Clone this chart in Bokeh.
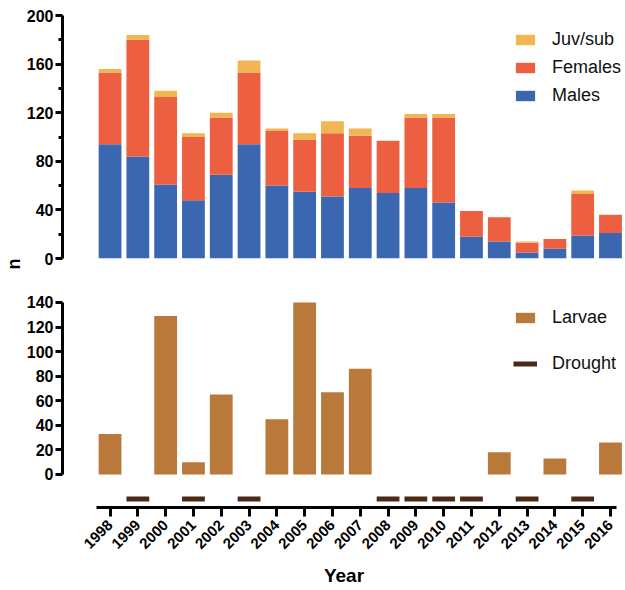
import math
from bokeh.plotting import figure
from bokeh.layouts import column
from bokeh.models import (Range1d, FixedTicker, Legend, LegendItem, Title,
                          ColumnDataSource)
from bokeh.embed import file_html
from bokeh.resources import INLINE

# ---------------- data ----------------
years = list(range(1998, 2017))
males = [94, 84, 61, 48, 69, 94, 60, 55, 51, 58, 54, 58, 46, 18, 14, 5, 8, 19, 21]
females = [59, 96, 72, 52, 47, 59, 45, 43, 52, 43, 43, 58, 70, 21, 20, 8, 8, 34, 15]
juv_sub = [3, 4, 5, 3, 4, 10, 2, 5, 10, 6, 0, 3, 3, 0, 0, 1, 0, 3, 0]
larvae = [33, 0, 129, 10, 65, 0, 45, 140, 67, 86, 0, 0, 0, 0, 18, 0, 13, 0, 26]
drought_years = [1999, 2001, 2003, 2008, 2009, 2010, 2011, 2013, 2015]
top_ticks = [0, 40, 80, 120, 160, 200]
top_minor = [20, 60, 100, 140, 180]
bottom_ticks = [0, 20, 40, 60, 80, 100, 120, 140]

# ---------------- styles ----------------
C_MALE = "#3B66B0"
C_FEM = "#EC5F41"
C_JUV = "#F2B553"
C_LARV = "#B9793B"
C_DROUGHT = "#4B2916"
FONT = "Liberation Sans"
BAR_W = 0.82
X_RANGE = (1996.29, 2016.54)


def style_yaxis(ax):
    ax.axis_line_width = 3
    ax.axis_line_color = "black"
    ax.major_tick_line_width = 3
    ax.major_tick_in = 0
    ax.major_tick_out = 7
    ax.minor_tick_line_width = 3
    ax.minor_tick_in = 0
    ax.minor_tick_out = 4
    ax.major_label_text_font = FONT
    ax.major_label_text_font_size = "16px"
    ax.major_label_text_font_style = "bold"
    ax.major_label_text_color = "black"
    ax.major_label_standoff = 2


# ---------------- top panel ----------------
p1 = figure(width=625, height=270, x_range=Range1d(*X_RANGE), y_range=Range1d(0, 200),
            output_backend="svg", toolbar_location=None, x_axis_location=None,
            min_border_left=62, min_border_right=0, min_border_top=15, min_border_bottom=12,
            outline_line_color=None, background_fill_color="white",
            border_fill_color="white")
p1.grid.visible = False

src = ColumnDataSource(dict(year=years, Males=males, Females=females, Juv=juv_sub))
rs = p1.vbar_stack(["Males", "Females", "Juv"], x="year", width=BAR_W, source=src,
                   fill_color=[C_MALE, C_FEM, C_JUV], line_color=None)

p1.yaxis.ticker = FixedTicker(ticks=top_ticks, minor_ticks=top_minor)
style_yaxis(p1.yaxis[0])

leg1 = Legend(items=[LegendItem(label="Juv/sub", renderers=[rs[2]]),
                     LegendItem(label="Females", renderers=[rs[1]]),
                     LegendItem(label="Males", renderers=[rs[0]])],
              location=(451, 152), glyph_width=24, glyph_height=13, label_height=20,
              spacing=7, label_standoff=15, padding=0, margin=0,
              border_line_color=None, background_fill_alpha=0,
              label_text_font=FONT, label_text_font_size="18px", label_text_color="#111111")
p1.add_layout(leg1)

p1.add_layout(Title(text="n", align="left", offset=-11, standoff=0,
                    text_font=FONT, text_font_size="18px", text_font_style="bold",
                    text_color="black"), "left")

# ---------------- bottom panel ----------------
p2 = figure(width=625, height=320, x_range=Range1d(*X_RANGE), y_range=Range1d(-26.86, 153.8),
            output_backend="svg", toolbar_location=None,
            min_border_left=62, min_border_right=0, min_border_top=15, min_border_bottom=83,
            outline_line_color=None, background_fill_color="white",
            border_fill_color="white")
p2.grid.visible = False

r_larv = p2.vbar(x=years, top=larvae, bottom=0, width=BAR_W, fill_color=C_LARV, line_color=None)
r_dr = p2.segment(x0=[y - BAR_W / 2 for y in drought_years],
                  x1=[y + BAR_W / 2 for y in drought_years],
                  y0=-19.9, y1=-19.9, line_color=C_DROUGHT, line_width=5, line_cap="butt")

p2.yaxis.ticker = FixedTicker(ticks=bottom_ticks, minor_ticks=[])
p2.yaxis.bounds = (0, 140)
style_yaxis(p2.yaxis[0])

xa = p2.xaxis[0]
xa.ticker = FixedTicker(ticks=years, minor_ticks=[])
xa.bounds = (1997.5, 2016.2)
xa.axis_line_width = 3
xa.axis_line_color = "black"
xa.major_tick_line_width = 3
xa.major_tick_in = 0
xa.major_tick_out = 9
xa.minor_tick_line_color = None
xa.major_label_orientation = math.pi / 4
xa.major_label_text_font = FONT
xa.major_label_text_font_size = "15px"
xa.major_label_text_font_style = "bold"
xa.major_label_text_color = "black"
xa.major_label_standoff = 6
xa.axis_label = "Year"
xa.axis_label_text_font = FONT
xa.axis_label_text_font_size = "19px"
xa.axis_label_text_font_style = "bold"
xa.axis_label_text_color = "black"
xa.axis_label_standoff = 9

leg2 = Legend(items=[LegendItem(label="Larvae", renderers=[r_larv]),
                     LegendItem(label="Drought", renderers=[r_dr])],
              location=(451, 133), glyph_width=24, glyph_height=13, label_height=20,
              spacing=25, label_standoff=15, padding=0, margin=0,
              border_line_color=None, background_fill_alpha=0,
              label_text_font=FONT, label_text_font_size="18px", label_text_color="#111111")
p2.add_layout(leg2)

layout = column(p1, p2, spacing=0)
open("out.html", "w").write(file_html(layout, INLINE))
